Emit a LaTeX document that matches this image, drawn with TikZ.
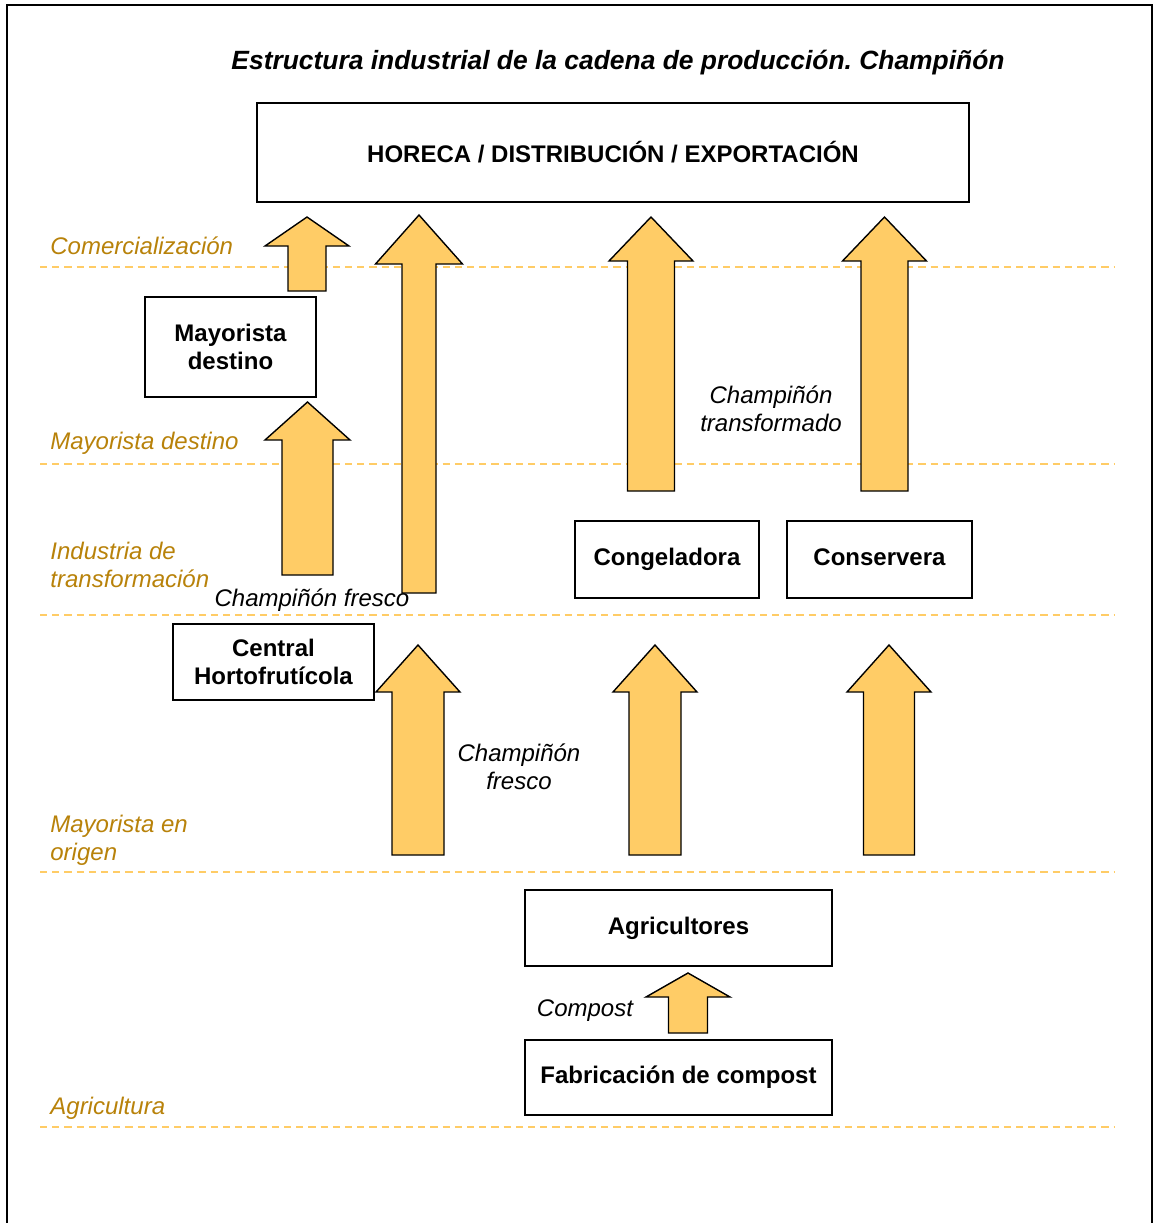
\documentclass[tikz,border=0pt]{standalone}
\usepackage{fontspec}
\setmainfont{Liberation Sans}
\definecolor{arrowfill}{RGB}{255,204,102}
\definecolor{levelline}{RGB}{255,204,102}
\definecolor{leveltext}{RGB}{184,130,10}
% block arrow: centre x, tip y, head base y, bottom y, shaft half width, head half width
\newcommand{\flowarrow}[6]{%
  \draw[flowarrow] (#1-#5,#4) -- (#1-#5,#3) -- (#1-#6,#3) -- (#1,#2) -- (#1+#6,#3) -- (#1+#5,#3) -- (#1+#5,#4) -- cycle;}

\begin{document}
\frenchspacing
\begin{tikzpicture}[x=0.5pt, y=-0.5pt,
    every node/.style={font=\fontsize{12}{14}\selectfont},
    box/.style={draw, line width=1pt, inner sep=0pt, align=center, font=\fontsize{12}{14}\selectfont\bfseries},
    level/.style={levelline, line width=1.1pt, dash pattern=on 3.6pt off 2.5pt},
    levellabel/.style={anchor=west, align=left, text=leveltext, inner sep=0pt, font=\fontsize{12}{14}\selectfont\itshape},
    flowlabel/.style={align=center, inner sep=0pt, font=\fontsize{12}{14}\selectfont\itshape},
    flowarrow/.style={draw, fill=arrowfill, line width=0.7pt, line join=miter}]
\useasboundingbox (0,0) rectangle (1154,1223);
\draw[line width=1pt] (7,1223) -- (7,5) -- (1152,5) -- (1152,1223);

\node[font=\fontsize{13.2}{15}\selectfont\bfseries\itshape] (title) at (618,63) {Estructura industrial de la cadena de producción. Champiñón};

% levels
\foreach \y in {267,464,615,872,1127}
  \draw[level] (40,\y) -- (1115,\y);
\node[levellabel] (lcom) at (50,246) {Comercialización};
\node[levellabel] (ldest) at (50,443) {Mayorista destino};
\node[levellabel] (lind) at (50,565) {Industria de\\transformación};
\node[levellabel] (lorig) at (50,840) {Mayorista en\\origen};
\node[levellabel] (lagr) at (50,1108) {Agricultura};

% boxes
\node[box, minimum width=356pt, minimum height=49.5pt] (horeca) at (613,152.5) {HORECA / DISTRIBUCIÓN / EXPORTACIÓN};
\node[box, minimum width=85.5pt, minimum height=50pt] (mdest) at (230.5,347) {Mayorista\\destino};
\node[box, minimum width=100.5pt, minimum height=38pt] (central) at (273.5,662) {Central\\Hortofrutícola};
\node[box, minimum width=92pt, minimum height=38.5pt, text depth=0.25em] (congel) at (667,559.5) {Congeladora};
\node[box, minimum width=92.5pt, minimum height=38.5pt, text depth=0.25em] (conserv) at (879.5,559.5) {Conservera};
\node[box, minimum width=153.5pt, minimum height=38pt, text depth=0.25em] (agric) at (678.5,928) {Agricultores};
\node[box, minimum width=153.5pt, minimum height=37.5pt, text depth=0.25em] (fcompost) at (678.5,1077.5) {Fabricación de compost};

% arrows
\flowarrow{307}{217}{246}{291}{19}{42}
\flowarrow{307.5}{402}{440}{575}{25.5}{42.5}
\flowarrow{419}{215}{264}{593}{17}{43.5}
\flowarrow{651}{217}{261}{491}{23.5}{42}
\flowarrow{884.5}{217}{261}{491}{23.5}{42}
\flowarrow{418}{645}{692}{855}{26}{42}
\flowarrow{655}{645}{692}{855}{26}{42}
\flowarrow{889}{645}{692}{855}{25.5}{42}
\flowarrow{688}{973}{997}{1033}{19.5}{42}

% arrow labels
\node[flowlabel] (fresco1) at (312,600) {Champiñón fresco};
\node[flowlabel] (fresco2) at (519,767) {Champiñón\\fresco};
\node[flowlabel] (transf) at (771,409) {Champiñón\\transformado};
\node[flowlabel] (compost) at (585,1011) {Compost};
\end{tikzpicture}
\end{document}
